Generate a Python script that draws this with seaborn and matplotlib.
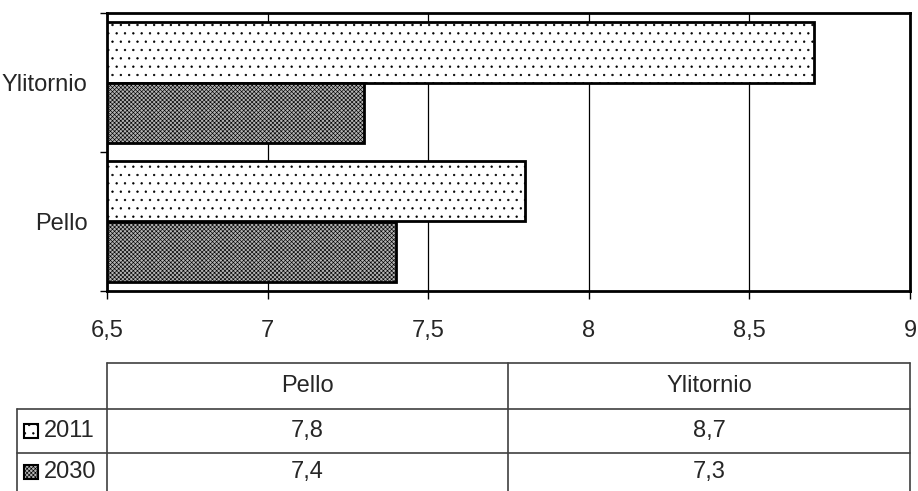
import matplotlib
matplotlib.use("Agg")
import matplotlib.pyplot as plt
from matplotlib.patches import Rectangle
from matplotlib.ticker import FixedLocator
import seaborn as sns
import pandas as pd

# Data
places = ["Pello", "Ylitornio"]
years = ["2011", "2030"]
values_2011 = [7.8, 8.7]
values_2030 = [7.4, 7.3]
x_ticks = [6.5, 7, 7.5, 8, 8.5, 9]
x_tick_labels = ["6,5", "7", "7,5", "8", "8,5", "9"]

df = pd.DataFrame({
    "place": places * 2,
    "year": [years[0]] * len(places) + [years[1]] * len(places),
    "value": values_2011 + values_2030,
})

sns.set_theme(style="white")
plt.rcParams["font.family"] = ["Liberation Sans", "DejaVu Sans"]
plt.rcParams["hatch.linewidth"] = 0.45

W, H = 918, 491
fig = plt.figure(figsize=(W / 100, H / 100), dpi=100)
ax = fig.add_axes([107 / W, 1 - 291 / H, (910 - 107) / W, (291 - 13) / H])

styles = {
    "2011": dict(face="white", hatch=".."),
    "2030": dict(face="#b4b4b4", hatch="xxxxxxxx"),
}

sns.barplot(data=df, y="place", x="value", hue="year",
            order=places[::-1], hue_order=years, orient="h",
            width=0.87, ax=ax, legend=False, errorbar=None)

for cont, yr in zip(ax.containers, years):
    for bar in cont:
        bar.set_facecolor(styles[yr]["face"])
        bar.set_hatch(styles[yr]["hatch"])
        bar.set_edgecolor("black")
        bar.set_linewidth(2)

ax.set_xlim(x_ticks[0], x_ticks[-1])
ax.set_ylim(1.5, -0.5)
ax.xaxis.set_major_locator(FixedLocator(x_ticks))
ax.set_xticklabels(x_tick_labels, fontsize=17)
ax.set_xlabel("")
ax.set_ylabel("")
ax.grid(axis="x", color="black", linewidth=0.9)
ax.set_axisbelow(True)
for s in ax.spines.values():
    s.set_visible(True)
    s.set_color("black")
    s.set_linewidth(2)

ax.tick_params(axis="x", which="major", direction="out", length=6, width=1,
               color="black", pad=15, bottom=True)
ax.yaxis.set_minor_locator(FixedLocator([-0.5, 0.5, 1.5]))
ax.tick_params(axis="y", which="minor", direction="out", length=5, width=1,
               color="black", left=True)
ax.tick_params(axis="y", which="major", length=0, pad=14, labelsize=17)

# Data table beneath the chart
tax = fig.add_axes([0, 0, 1, 1])
tax.set_xlim(0, W)
tax.set_ylim(H, 0)
tax.axis("off")

lc = "#404040"
lw = 1.2
x0, x1, x2, x3 = 17, 107, 508, 910
y0, y1, y2, y3 = 363, 409, 453, 491
tax.plot([x1, x3], [y0, y0], color=lc, lw=lw)
tax.plot([x0, x3], [y1, y1], color=lc, lw=lw)
tax.plot([x0, x3], [y2, y2], color=lc, lw=lw)
for xv in (x1, x2, x3):
    tax.plot([xv, xv], [y0, y3], color=lc, lw=lw)
tax.plot([x0, x0], [y1, y3], color=lc, lw=lw)

col_edges = [x1, x2, x3]
for i, p in enumerate(places):
    cx = (col_edges[i] + col_edges[i + 1]) / 2
    tax.text(cx, (y0 + y1) / 2, p, ha="center", va="center", fontsize=17)

row_vals = {"2011": values_2011, "2030": values_2030}
row_bounds = [(y1, y2), (y2, y3)]
for (ya, yb), yr in zip(row_bounds, years):
    cy = (ya + yb) / 2
    tax.add_patch(Rectangle((24, cy - 7), 14, 14,
                            facecolor=styles[yr]["face"],
                            hatch=styles[yr]["hatch"],
                            edgecolor="black", linewidth=1.5))
    tax.text(44, cy, yr, ha="left", va="center", fontsize=17)
    for i, v in enumerate(row_vals[yr]):
        cx = (col_edges[i] + col_edges[i + 1]) / 2
        tax.text(cx, cy, f"{v:.1f}".replace(".", ","), ha="center",
                 va="center", fontsize=17)

fig.savefig("out.png", dpi=100)
